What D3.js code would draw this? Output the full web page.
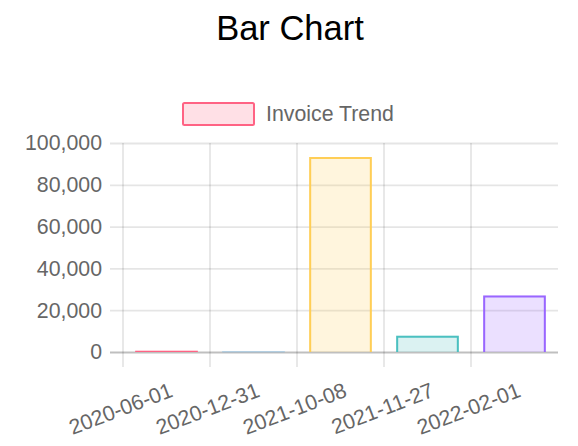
<!DOCTYPE html>
<html>
<head>
<meta charset="utf-8">
<script src="https://cdn.jsdelivr.net/npm/d3@7"></script>
<style>
  html, body { margin: 0; padding: 0; background: #fff; }
  svg { display: block; }
  text { font-family: "Liberation Sans", Arial, Helvetica, sans-serif; }
</style>
</head>
<body>
<svg id="chart" width="578" height="446"></svg>
<script>
// ---- data ----
const chartTitle = "Bar Chart";
const seriesName = "Invoice Trend";
const categories = ["2020-06-01", "2020-12-31", "2021-10-08", "2021-11-27", "2022-02-01"];
const values = [600, 150, 93300, 7800, 27000];
const yTicks = [0, 20000, 40000, 60000, 80000, 100000];
const fillColors = ["rgba(255,99,132,0.2)", "rgba(54,162,235,0.2)", "rgba(255,206,86,0.2)", "rgba(75,192,192,0.2)", "rgba(153,102,255,0.2)"];
const strokeColors = ["rgba(255,99,132,1)", "rgba(54,162,235,1)", "rgba(255,206,86,1)", "rgba(75,192,192,1)", "rgba(153,102,255,1)"];

// ---- layout ----
const svg = d3.select("#chart");
const plotLeft = 123, plotRight = 558, plotTop = 143, plotBottom = 352;
const x = d3.scaleBand().domain(categories).range([plotLeft, plotRight]).padding(0);
const y = d3.scaleLinear().domain([0, 100000]).range([plotBottom, plotTop]);
const tickFont = 21.3;
const textColor = "#666";

// title
svg.append("text")
  .attr("x", 290).attr("y", 40)
  .attr("text-anchor", "middle")
  .attr("font-size", 34.5)
  .attr("fill", "#000")
  .text(chartTitle);

// legend
svg.append("rect")
  .attr("x", 183).attr("y", 103).attr("width", 71).attr("height", 22)
  .attr("rx", 1.5)
  .attr("fill", fillColors[0]).attr("stroke", strokeColors[0]).attr("stroke-width", 2);
svg.append("text")
  .attr("x", 266).attr("y", 114).attr("dy", "0.35em")
  .attr("font-size", tickFont).attr("fill", textColor)
  .text(seriesName);

// horizontal grid + y axis ticks
const yAxis = d3.axisLeft(y).tickValues(yTicks).tickFormat(d3.format(",")).tickSize(0).tickPadding(0);
const gy = svg.append("g").attr("transform", `translate(${plotLeft},0)`).call(yAxis);
gy.select(".domain").remove();
gy.selectAll(".tick text")
  .attr("x", -21).attr("font-size", tickFont).attr("fill", textColor)
  .attr("font-family", "Liberation Sans, Arial, sans-serif");
gy.selectAll(".tick").append("line")
  .attr("x1", -13).attr("x2", plotRight - plotLeft)
  .attr("stroke", d => d === 0 ? "rgba(0,0,0,0.25)" : "rgba(0,0,0,0.1)")
  .attr("stroke-width", 1.8);

// vertical grid lines at category starts
svg.append("g").selectAll("line")
  .data(categories)
  .join("line")
  .attr("x1", d => x(d)).attr("x2", d => x(d))
  .attr("y1", plotTop).attr("y2", plotBottom + 15)
  .attr("stroke", "rgba(0,0,0,0.1)").attr("stroke-width", 1.8);

// bars (fill + border with bottom edge skipped, border clamped to bar height)
const bw = x.bandwidth() * 0.72;
const bars = svg.append("g").selectAll("g")
  .data(values)
  .join("g");
bars.append("rect")
  .attr("x", (d, i) => x(categories[i]) + (x.bandwidth() - bw) / 2)
  .attr("width", bw)
  .attr("y", d => y(d))
  .attr("height", d => y(0) - y(d))
  .attr("fill", (d, i) => fillColors[i]);
bars.append("path")
  .attr("d", (d, i) => {
    const h = y(0) - y(d);
    const sw = Math.min(2, h);
    const x0 = x(categories[i]) + (x.bandwidth() - bw) / 2 + sw / 2;
    const x1 = x0 + bw - sw;
    const yt = y(d) + sw / 2;
    return `M${x0},${y(0)}V${yt}H${x1}V${y(0)}`;
  })
  .attr("fill", "none")
  .attr("stroke", (d, i) => strokeColors[i])
  .attr("stroke-width", d => Math.min(2, y(0) - y(d)));

// x axis labels (rotated)
const xAxis = d3.axisBottom(x).tickSize(0).tickPadding(0);
const gx = svg.append("g").attr("transform", `translate(0,${plotBottom})`).call(xAxis);
gx.select(".domain").remove();
gx.selectAll(".tick text")
  .attr("font-size", tickFont).attr("fill", textColor)
  .attr("font-family", "Liberation Sans, Arial, sans-serif")
  .attr("text-anchor", "end")
  .attr("dy", "0.35em")
  .attr("y", 0)
  .attr("transform", "translate(5,37) rotate(-21)");
</script>
</body>
</html>
